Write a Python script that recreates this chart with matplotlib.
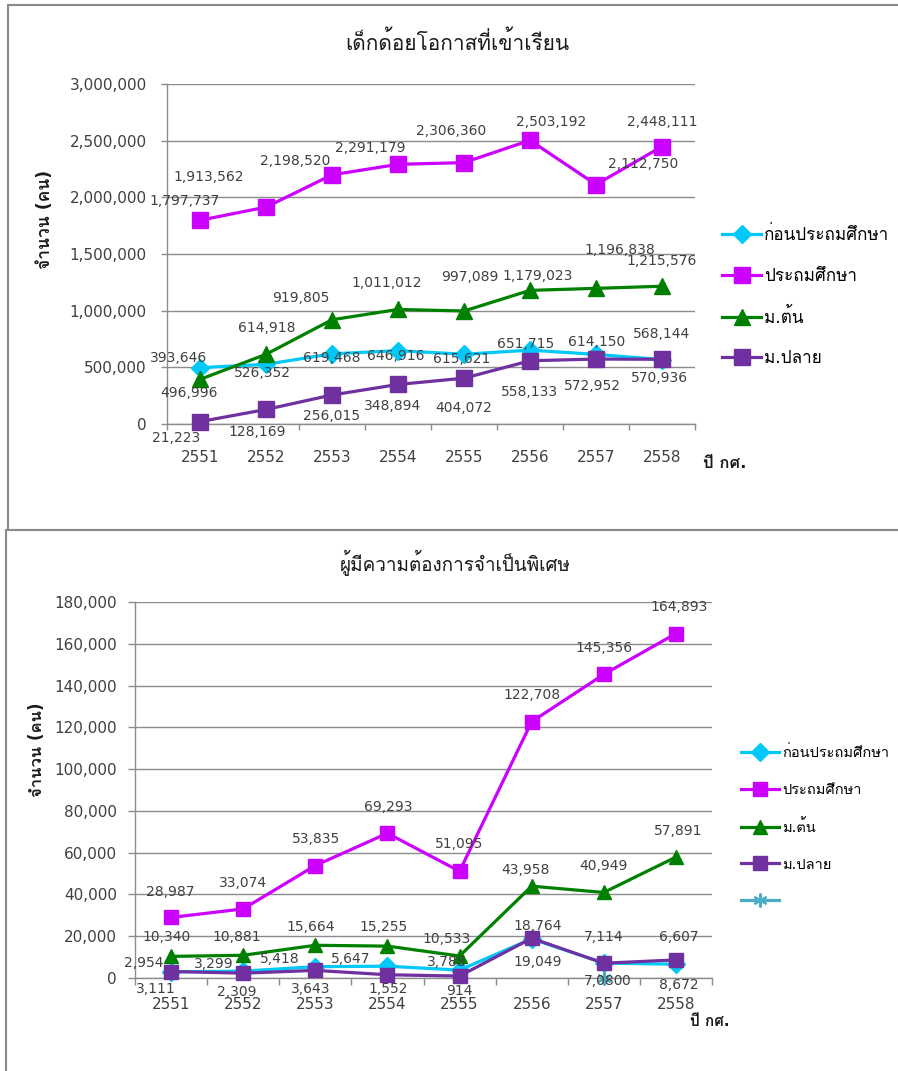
import numpy as np
import matplotlib
matplotlib.use("Agg")
from matplotlib import pyplot as plt, font_manager
from matplotlib.ft2font import FT2Font
from matplotlib.patches import Rectangle
from matplotlib.ticker import FuncFormatter, FixedLocator

# ---------------- data ----------------
years = ["2551", "2552", "2553", "2554", "2555", "2556", "2557", "2558"]
series_names = ["ก่อนประถมศึกษา", "ประถมศึกษา", "ม.ต้น", "ม.ปลาย"]

# chart 1: เด็กด้อยโอกาสที่เข้าเรียน
top_pre = [496996, 526352, 619468, 646916, 615621, 651715, 614150, 568144]
top_prim = [1797737, 1913562, 2198520, 2291179, 2306360, 2503192, 2112750, 2448111]
top_low = [393646, 614918, 919805, 1011012, 997089, 1179023, 1196838, 1215576]
top_up = [21223, 128169, 256015, 348894, 404072, 558133, 572952, 570936]

# chart 2: ผู้มีความต้องการจำเป็นพิเศษ
bot_pre = [2954, 3299, 5418, 5647, 3788, 18764, 7114, 6607]
bot_prim = [28987, 33074, 53835, 69293, 51095, 122708, 145356, 164893]
bot_low = [10340, 10881, 15664, 15255, 10533, 43958, 40949, 57891]
bot_up = [3111, 2309, 3643, 1552, 914, 19049, 7080, 8672]
bot_extra = [np.nan, np.nan, np.nan, np.nan, np.nan, np.nan, 0, np.nan]

# label offsets in pixels (dx, dy downwards)
top_off = [
    [(-11, 25), (-4, 9), (0, 4), (-2, 5), (-2, 5), (-4, -6), (1, -12), (0, -26)],
    [(-15, -19), (-57, -30), (-37, -14), (-28, -16), (-13, -32), (21, -18), (47, -21), (0, -25)],
    [(-21, -21), (1, -26), (-31, -22), (-11, -26), (6, -34), (8, -14), (24, -38), (0, -25)],
    [(-24, 16), (-9, 23), (0, 21), (-5, 22), (0, 30), (0, 31), (-4, 27), (-2, 19)],
]
bot_off = [
    [(-27, -9), (-29, -7), (-36, -8), (-37, -7), (-13, -8), (6, -13), (0, -26), (3, -27)],
    [(-1, -25), (0, -26), (1, -27), (1, -26), (0, -27), (0, -27), (0, -26), (3, -27)],
    [(-5, -19), (-6, -18), (-5, -18), (-4, -19), (-13, -17), (-6, -16), (0, -26), (2, -26)],
    [(-15, 17), (-6, 19), (-5, 19), (1, 14), (0, 15), (6, 24), (0, 18), (3, 25)],
]


def find_thai_font():
    for f in font_manager.fontManager.ttflist:
        try:
            cmap = FT2Font(f.fname).get_charmap()
        except Exception:
            continue
        if 0x0E01 in cmap and 0x0E49 in cmap:
            return f.name
    return None


thai = find_thai_font()
families = ["DejaVu Sans"] + ([thai] if thai else [])
plt.rcParams["font.family"] = families

W, H = 898, 1071
fig = plt.figure(figsize=(W / 100, H / 100), dpi=100)

colors = ["#00C8F8", "#CC00FF", "#008000", "#7030A0"]
markers = ["D", "s", "^", "s"]
grid_c = "#8C8C8C"
txt_c = "#404040"
dark = "#1a1a1a"


def fx(x):
    return x / W


def fy(y):
    return 1 - y / H


def make_axes(l, r, t, b):
    return fig.add_axes([fx(l), fy(b), fx(r) - fx(l), (b - t) / H])


def style_axes(ax, ymax, ystep, ylab_pad, xlab_pad, tick_len):
    x = np.arange(len(years))
    ax.set_xlim(-0.5, len(years) - 0.5)
    ax.set_ylim(0, ymax)
    ax.set_yticks(np.arange(0, ymax + 1, ystep))
    ax.yaxis.set_major_formatter(FuncFormatter(lambda v, p: f"{int(v):,}"))
    ax.set_xticks(x)
    ax.set_xticklabels(years)
    ax.xaxis.set_minor_locator(FixedLocator(np.arange(-0.5, len(years), 1.0)))
    ax.tick_params(axis="x", which="major", length=0, pad=xlab_pad, labelsize=11, labelcolor=txt_c)
    ax.tick_params(axis="x", which="minor", length=tick_len, color=grid_c, width=1)
    ax.tick_params(axis="y", length=tick_len, color=grid_c, width=1, pad=ylab_pad,
                   labelsize=11, labelcolor=txt_c)
    ax.grid(axis="y", color=grid_c, lw=1)
    ax.set_axisbelow(True)
    for s in ["top", "right"]:
        ax.spines[s].set_visible(False)
    for s in ["left", "bottom"]:
        ax.spines[s].set_color(grid_c)
        ax.spines[s].set_linewidth(1)


def draw_series(ax, data, offsets, ms_list):
    x = np.arange(len(years))
    handles = []
    for i, vals in enumerate(data):
        h, = ax.plot(x, vals, color=colors[i], lw=2.3, marker=markers[i],
                     ms=ms_list[i], label=series_names[i], zorder=3 + i, clip_on=False)
        handles.append(h)
        for j, v in enumerate(vals):
            dx, dy = offsets[i][j]
            ax.annotate(f"{v:,}", (j, v), xytext=(dx, -dy), textcoords="offset pixels",
                        ha="center", va="center", fontsize=10, color=txt_c, zorder=10)
    return handles


# frames
fig.patches.append(Rectangle((fx(8), fy(530)), 1.2, (530 - 5) / H, transform=fig.transFigure,
                             fill=False, ec="#8A8A8A", lw=1.5))
fig.patches.append(Rectangle((fx(6), fy(1090)), 1.2, (1090 - 530) / H, transform=fig.transFigure,
                             fill=False, ec="#8A8A8A", lw=1.5))

# ---------------- chart 1 ----------------
ax1 = make_axes(167, 695, 84, 424)
style_axes(ax1, 3000000, 500000, 10, 19, 4.5)
h1 = draw_series(ax1, [top_pre, top_prim, top_low, top_up], top_off, [9.5, 11.5, 11, 11.5])
fig.text(fx(457), fy(42), "เด็กด้อยโอกาสที่เข้าเรียน", ha="center", va="center",
         fontsize=15, color=dark)
fig.text(fx(45), fy(219), "จำนวน (คน)", rotation=90, ha="center", va="center",
         fontsize=12.5, fontweight="bold", color=dark)
fig.text(fx(703), fy(463), "ปี กศ.", ha="left", va="center",
         fontsize=12, fontweight="bold", color=dark)
fig.legend(handles=h1, loc="upper left", bbox_to_anchor=(fx(722), fy(226)), frameon=False,
           fontsize=12.3, handlelength=2.3, handletextpad=0.15, labelspacing=1.33,
           borderaxespad=0, borderpad=0)

# ---------------- chart 2 ----------------
ax2 = make_axes(135, 712, 602, 978)
style_axes(ax2, 180000, 20000, 8, 14, 5)
h2 = draw_series(ax2, [bot_pre, bot_prim, bot_low, bot_up], bot_off, [9.5, 10.5, 10.5, 10.5])
hx, = ax2.plot(np.arange(len(years)), bot_extra, color="#4BACC6", lw=2.3,
               marker=(6, 2, 0), ms=10, mew=1.5, label=" ", zorder=8, clip_on=False)
ax2.annotate("0", (6, 0), xytext=(22, -3), textcoords="offset pixels",
             ha="center", va="center", fontsize=10, color=txt_c, zorder=10)
fig.text(fx(455), fy(563), "ผู้มีความต้องการจำเป็นพิเศษ", ha="center", va="center",
         fontsize=13.6, color=dark)
fig.text(fx(37), fy(750), "จำนวน (คน)", rotation=90, ha="center", va="center",
         fontsize=12, fontweight="bold", color=dark)
fig.text(fx(690), fy(1021), "ปี กศ.", ha="left", va="center",
         fontsize=11, fontweight="bold", color=dark)
fig.legend(handles=h2 + [hx], loc="upper left", bbox_to_anchor=(fx(741), fy(745)), frameon=False,
           fontsize=10.5, handlelength=2.6, handletextpad=0.2, labelspacing=1.5,
           borderaxespad=0, borderpad=0)

fig.savefig("out.png", dpi=100)
